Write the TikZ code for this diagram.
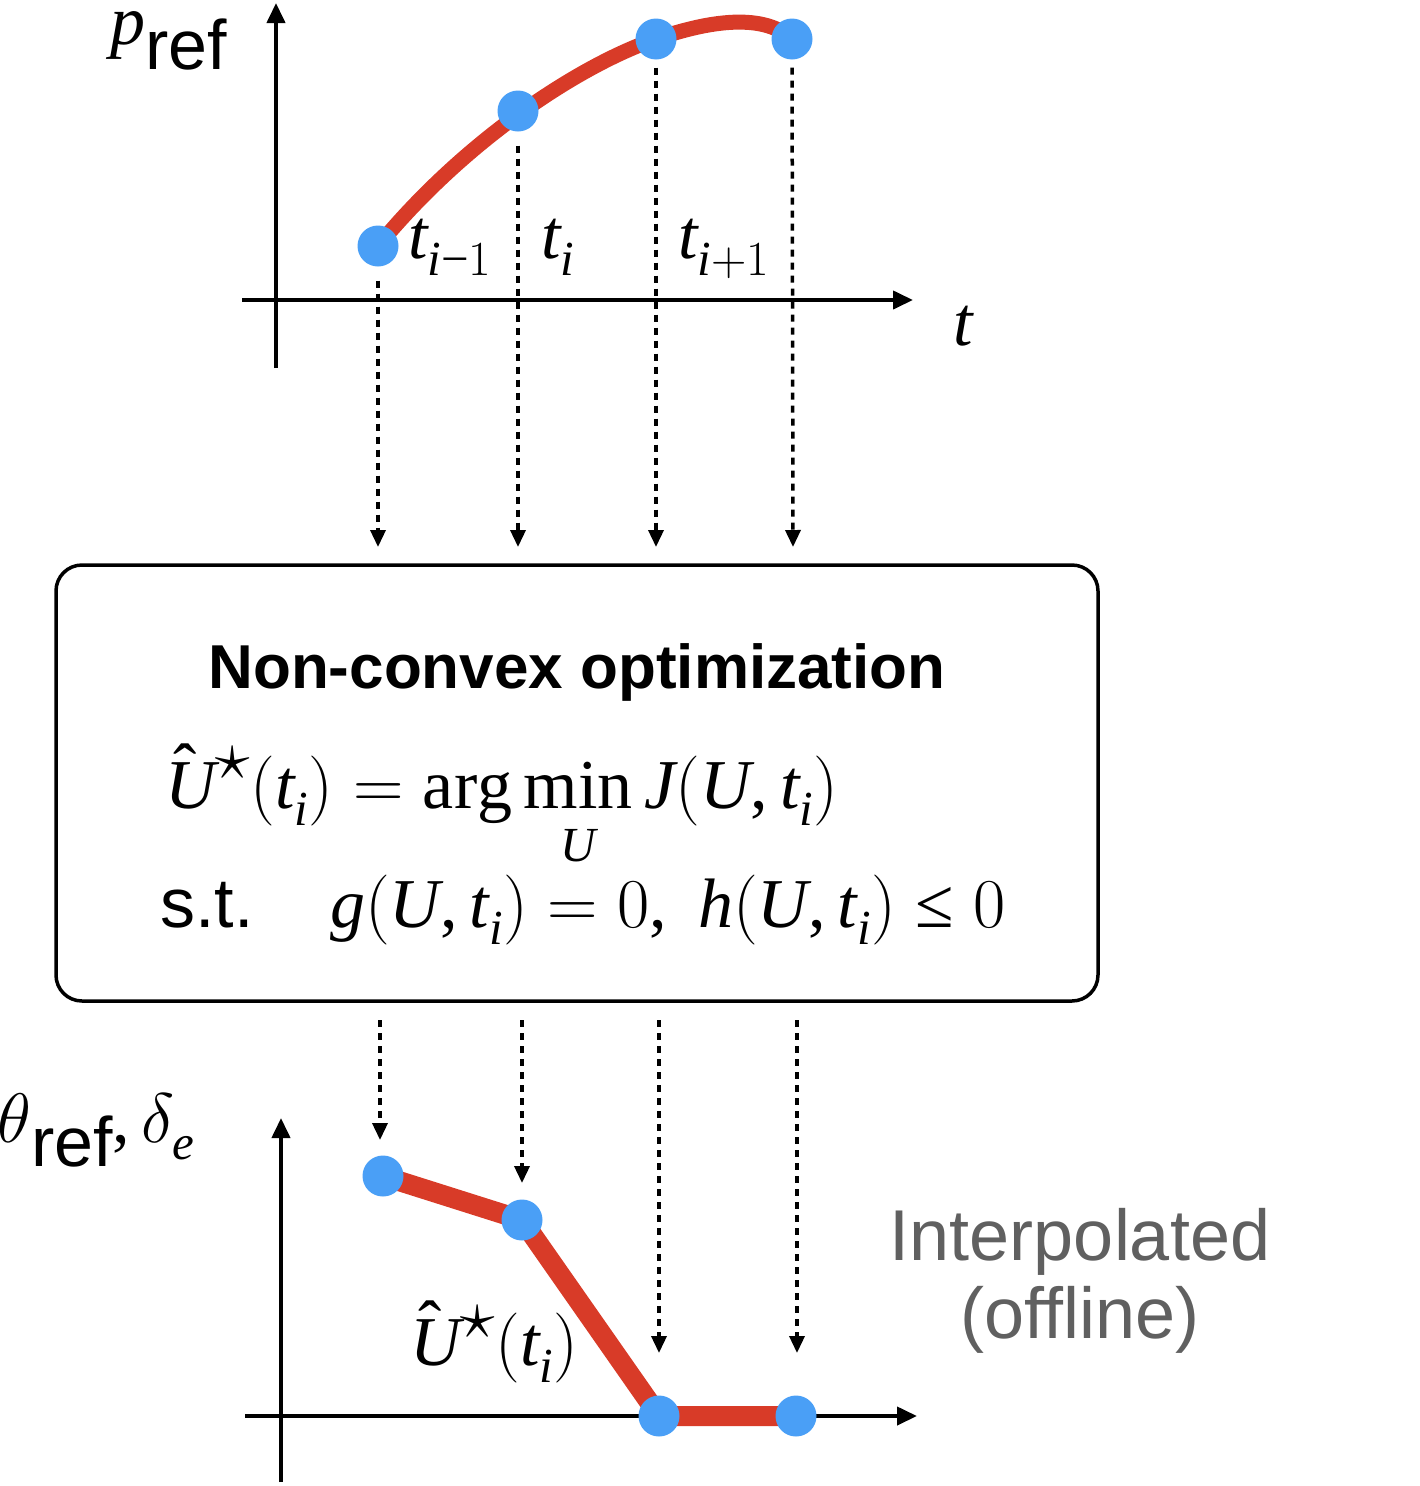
\RequirePackage{fix-cm}
\documentclass[tikz,border=0pt]{standalone}
\usepackage{fontspec}
\setsansfont{Liberation Sans}
\newfontfamily\tms{Liberation Serif}[NFSSFamily=tms]
\DeclareSymbolFont{tmsit}{TU}{tms}{m}{it}
\DeclareSymbolFont{tmsup}{TU}{tms}{m}{n}
\makeatletter
\count@=`A
\loop \Umathcode\count@=7 \symtmsit \count@ \ifnum\count@<`Z \advance\count@ 1 \repeat
\count@=`a
\loop \Umathcode\count@=7 \symtmsit \count@ \ifnum\count@<`z \advance\count@ 1 \repeat
\count@=`0
\loop \Umathcode\count@=7 \symtmsup \count@ \ifnum\count@<`9 \advance\count@ 1 \repeat
\Umathcode`(=4 \symtmsup `(
\Umathcode`)=5 \symtmsup `)
\Umathcode`,=6 \symtmsup `,
\Umathcode`==3 \symtmsup `=
\Umathcode`+=2 \symtmsup `+
\Umathcode`-=2 \symtmsup "2212
\Umathchardef\tmsleq="3 \symtmsup "2264
\renewcommand\operator@font{\mathgroup\symtmsup}
\makeatother
\newcommand{\lowsubs}{\fontdimen16\textfont2=17pt \fontdimen17\textfont2=17pt }
\newcommand{\Uhatstar}{\mathord{\makebox[0pt][l]{\kern8pt\raisebox{16pt}[0pt][0pt]{\tms\char"02C6}}U}^{\textstyle\star}}
\usetikzlibrary{arrows.meta}
\definecolor{curvered}{RGB}{216,59,40}
\definecolor{dotblue}{RGB}{74,159,246}
\definecolor{labelgray}{RGB}{96,96,96}
\begin{document}
\begin{tikzpicture}[x=1pt,y=-1pt,
  axis/.style={line width=4pt, -{Triangle[length=20pt,width=18pt]}},
  dasharrow/.style={line width=3.5pt, dash pattern=on 7pt off 6pt, -{Triangle[length=17pt,width=15pt]}},
  dot/.style={circle, fill=dotblue, inner sep=0pt, minimum size=41pt},
  curve/.style={line width=15pt, draw=curvered},
  bigmath/.style={font=\fontsize{70}{84}\selectfont, inner sep=0pt},
  sanslabel/.style={font=\sffamily\fontsize{70}{84}\selectfont, inner sep=0pt},
]
\useasboundingbox (0,0) rectangle (1420,1486);

% ---------- top plot ----------
\coordinate (tyb) at (276,368);
\coordinate (tyt) at (276,3);
\coordinate (txl) at (242,300);
\coordinate (txr) at (913,300);
\draw[axis] (tyb) -- (tyt);
\draw[axis] (txl) -- (txr);

\coordinate (c1) at (378,246);
\coordinate (c2) at (518,111);
\coordinate (c3) at (656,39);
\coordinate (c4) at (792,39);
\draw[curve] (c1) .. controls (465,140) and (580,65) .. (c3)
             .. controls (700,24) and (760,10) .. (c4);
\node[dot] (p1) at (c1) {};
\node[dot] (p2) at (c2) {};
\node[dot] (p3) at (c3) {};
\node[dot] (p4) at (c4) {};

\node[bigmath, anchor=base west] (l1) at (408,258) {$\lowsubs t_{i-1}$};
\node[bigmath, anchor=base west] (l2) at (541,258) {$\lowsubs t_i$};
\node[bigmath, anchor=base west] (l3) at (678,258) {$\lowsubs t_{i+1}$};
\node[bigmath, anchor=base west] (lt) at (953,345) {$t$};
\node[bigmath, anchor=base west] (lp) at (110,44) {$p$\raisebox{-25pt}{\sffamily ref}};

\coordinate (a1) at (378,547);
\coordinate (a2) at (518,547);
\coordinate (a3) at (656,547);
\coordinate (a4) at (793,547);
\draw[dasharrow, shorten <=14pt] (p1) -- (a1);
\draw[dasharrow, shorten <=14pt] (p2) -- (a2);
\draw[dasharrow, shorten <=8pt] (p3) -- (a3);
\draw[dasharrow, shorten <=8pt] (p4) -- (a4);

% ---------- optimisation box ----------
\node[draw, line width=3.5pt, rounded corners=26pt, minimum width=1042pt,
      minimum height=436pt, inner sep=0pt] (box) at (577,783) {};
\node[anchor=base, inner sep=0pt, font=\sffamily\bfseries\fontsize{62}{74}\selectfont]
  (title) at (577,688) {Non-convex optimization};
\node[bigmath, anchor=base west] (eq1) at (165,808)
  {$\lowsubs\displaystyle \Uhatstar(t_i) = \arg\min_{\rule{0pt}{52pt}U} J(U,t_i)$};
\node[sanslabel, anchor=base west] (st) at (160,927) {s.t.};
\node[bigmath, anchor=base west] (eq2) at (330,927)
  {$\lowsubs g(U,t_i)=0,\; h(U,t_i)\tmsleq 0$};

% ---------- bottom plot ----------
\coordinate (byb) at (281,1482);
\coordinate (byt) at (281,1118);
\coordinate (bxl) at (245,1416);
\coordinate (bxr) at (917,1416);
\draw[axis] (byb) -- (byt);
\draw[axis] (bxl) -- (bxr);

\coordinate (s1) at (380,1020);
\coordinate (s2) at (522,1020);
\coordinate (s3) at (659,1020);
\coordinate (s4) at (797,1020);
\coordinate (e1) at (380,1140);
\coordinate (e2) at (522,1183);
\coordinate (e3) at (659,1353);
\coordinate (e4) at (797,1353);
\draw[dasharrow] (s1) -- (e1);
\draw[dasharrow] (s2) -- (e2);
\draw[dasharrow] (s3) -- (e3);
\draw[dasharrow] (s4) -- (e4);

\coordinate (d1) at (383,1176);
\coordinate (d2) at (522,1220);
\coordinate (d3) at (659,1416);
\coordinate (d4) at (796,1416);
\draw[line width=20pt, curvered, line join=round] (d1) -- (d2) -- (d3) -- (d4);
\node[dot] (b1) at (d1) {};
\node[dot] (b2) at (d2) {};
\node[dot] (b3) at (d3) {};
\node[dot] (b4) at (d4) {};

\node[bigmath, anchor=base west] (lth) at (-3,1142)
  {$\theta$\raisebox{-24pt}{\sffamily ref}$,\delta_e$};
\node[bigmath, anchor=base west] (lu) at (410,1365) {$\lowsubs\Uhatstar(t_i)$};
\node[anchor=base, inner sep=0pt, text=labelgray, font=\sffamily\fontsize{72}{86}\selectfont]
  (int1) at (1080,1260) {Interpolated};
\node[anchor=base, inner sep=0pt, text=labelgray, font=\sffamily\fontsize{72}{86}\selectfont]
  (int2) at (1080,1338) {(offline)};
\end{tikzpicture}
\end{document}
